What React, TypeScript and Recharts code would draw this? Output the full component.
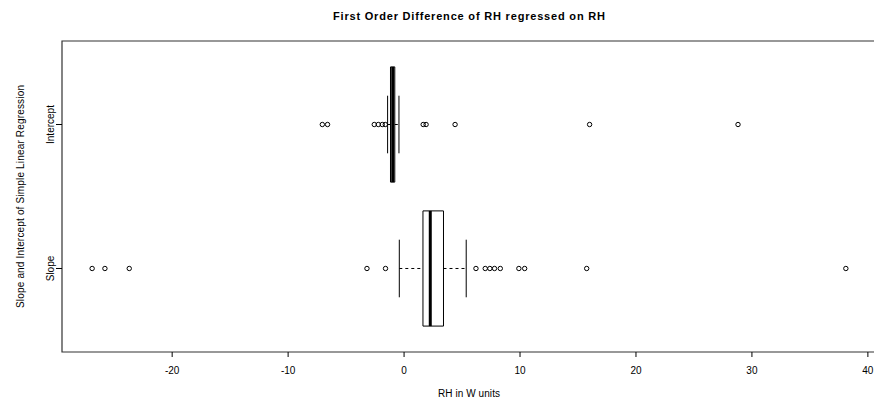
import React from 'react';
import { ComposedChart, XAxis, YAxis, Scatter, ReferenceArea, ReferenceLine } from 'recharts';

const FONT = '"Liberation Sans", Arial, Helvetica, sans-serif';

// ---- data ----
const categories = ['Slope', 'Intercept'];
const categoryPositions = [1, 2];
const lowerWhiskers = [-0.41, -1.42];
const lowerQuartiles = [1.63, -1.17];
const medians = [2.26, -0.98];
const upperQuartiles = [3.4, -0.8];
const upperWhiskers = [5.36, -0.44];
const slopeOutliers = [-26.9, -25.8, -23.7, -3.2, -1.6, 6.2, 7.0, 7.4, 7.8, 8.3, 9.9, 10.4, 15.75, 38.1];
const interceptOutliers = [-7.05, -6.6, -2.57, -2.22, -1.88, -1.62, 1.65, 1.9, 4.4, 16.0, 28.8];
const xTicks = [-20, -10, 0, 10, 20, 30, 40];
const xDomain: [number, number] = [-29.5, 40.7];
const yDomain: [number, number] = [0.42, 2.58];

const title = 'First Order Difference of RH regressed on RH';
const xLabel = 'RH in W units';
const yLabel = 'Slope and Intercept of Simple Linear Regression';

const BOX_HALF = 0.4;
const CAP_HALF = 0.2;

const slopePoints = slopeOutliers.map((x) => ({ x, y: categoryPositions[0] }));
const interceptPoints = interceptOutliers.map((x) => ({ x, y: categoryPositions[1] }));

const OpenCircle = (props: any) => {
  const { cx, cy } = props;
  if (cx == null || cy == null) return null;
  return <circle cx={cx} cy={cy} r={2.2} fill="none" stroke="#000" strokeWidth={1} />;
};

const CategoryTick = (props: any) => {
  const { x, y, payload } = props;
  const idx = categoryPositions.indexOf(payload.value);
  const label = idx >= 0 ? categories[idx] : '';
  return (
    <text
      x={x}
      y={y}
      transform={`rotate(-90 ${x} ${y})`}
      textAnchor="middle"
      fontSize={10}
      fontFamily={FONT}
      fill="#000"
    >
      {label}
    </text>
  );
};

const XLabel = (props: any) => {
  const vb = props.viewBox || { x: 62, y: 352, width: 814, height: 55 };
  return (
    <text
      x={vb.x + vb.width / 2}
      y={vb.y + 45}
      textAnchor="middle"
      fontSize={10}
      fontFamily={FONT}
      fill="#000"
      textLength={62}
    >
      {xLabel}
    </text>
  );
};

const YLabel = (props: any) => {
  const vb = props.viewBox || { x: 0, y: 41, width: 62, height: 311 };
  const x = vb.x + 23.5;
  const y = vb.y + vb.height / 2;
  return (
    <text
      x={x}
      y={y}
      transform={`rotate(-90 ${x} ${y})`}
      textAnchor="middle"
      fontSize={10}
      fontFamily={FONT}
      fill="#000"
      textLength={223}
    >
      {yLabel}
    </text>
  );
};

export default function App() {
  const boxes = categories.map((c, i) => {
    const p = categoryPositions[i];
    return (
      <React.Fragment key={c}>
        <ReferenceLine
          segment={[{ x: lowerWhiskers[i], y: p }, { x: lowerQuartiles[i], y: p }]}
          stroke="#000"
          strokeWidth={1}
          strokeDasharray="3 3"
          ifOverflow="visible"
        />
        <ReferenceLine
          segment={[{ x: upperQuartiles[i], y: p }, { x: upperWhiskers[i], y: p }]}
          stroke="#000"
          strokeWidth={1}
          strokeDasharray="3 3"
          ifOverflow="visible"
        />
        <ReferenceLine
          segment={[{ x: lowerWhiskers[i], y: p - CAP_HALF }, { x: lowerWhiskers[i], y: p + CAP_HALF }]}
          stroke="#000"
          strokeWidth={1}
          ifOverflow="visible"
        />
        <ReferenceLine
          segment={[{ x: upperWhiskers[i], y: p - CAP_HALF }, { x: upperWhiskers[i], y: p + CAP_HALF }]}
          stroke="#000"
          strokeWidth={1}
          ifOverflow="visible"
        />
        <ReferenceArea
          x1={lowerQuartiles[i]}
          x2={upperQuartiles[i]}
          y1={p - BOX_HALF}
          y2={p + BOX_HALF}
          fill="none"
          fillOpacity={0}
          stroke="#000"
          strokeWidth={1}
          ifOverflow="visible"
        />
        <ReferenceLine
          segment={[{ x: medians[i], y: p - BOX_HALF }, { x: medians[i], y: p + BOX_HALF }]}
          stroke="#000"
          strokeWidth={3}
          ifOverflow="visible"
        />
      </React.Fragment>
    );
  });

  return (
    <div
      style={{
        position: 'absolute',
        left: 0,
        top: 0,
        width: 874,
        height: 407,
        overflow: 'hidden',
        background: '#fff',
      }}
    >
      <svg width={874} height={30} style={{ position: 'absolute', left: 0, top: 0 }}>
        <text
          x={469}
          y={19.5}
          textAnchor="middle"
          fontSize={11}
          fontWeight="bold"
          fontFamily={FONT}
          fill="#000"
          textLength={272}
        >
          {title}
        </text>
      </svg>
      <div style={{ position: 'absolute', left: 0, top: 0 }}>
        <ComposedChart width={880} height={407} margin={{ top: 41, right: 4, bottom: 0, left: 0 }}>
          <XAxis
            type="number"
            dataKey="x"
            domain={xDomain}
            ticks={xTicks}
            allowDataOverflow
            axisLine={false}
            tickSize={5}
            tickMargin={10}
            tick={{ fontSize: 10, fill: '#000', fontFamily: FONT }}
            tickLine={{ stroke: '#000' }}
            height={55}
            label={<XLabel />}
          />
          <YAxis
            type="number"
            dataKey="y"
            domain={yDomain}
            ticks={categoryPositions}
            allowDataOverflow
            axisLine={false}
            width={62}
            tickSize={6}
            tickLine={{ stroke: '#000' }}
            tick={<CategoryTick />}
            label={<YLabel />}
          />
          <ReferenceArea
            x1={xDomain[0]}
            x2={xDomain[1]}
            y1={yDomain[0]}
            y2={yDomain[1]}
            fill="none"
            fillOpacity={0}
            stroke="#333"
            strokeWidth={1.2}
            ifOverflow="visible"
          />
          {boxes}
          <Scatter data={slopePoints} shape={<OpenCircle />} isAnimationActive={false} />
          <Scatter data={interceptPoints} shape={<OpenCircle />} isAnimationActive={false} />
        </ComposedChart>
      </div>
    </div>
  );
}
